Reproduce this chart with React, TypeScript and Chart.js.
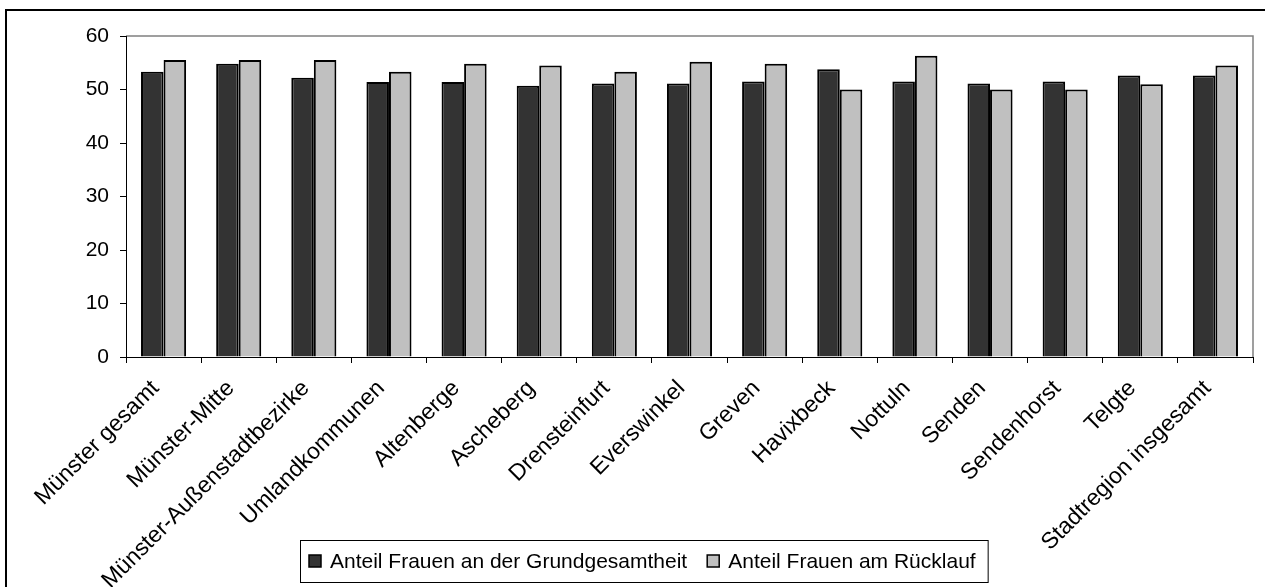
import React, { useEffect, useRef } from "react";
import { Chart, registerables } from "chart.js";

Chart.register(...registerables);

const categories = [
  "Münster gesamt",
  "Münster-Mitte",
  "Münster-Außenstadtbezirke",
  "Umlandkommunen",
  "Altenberge",
  "Ascheberg",
  "Drensteinfurt",
  "Everswinkel",
  "Greven",
  "Havixbeck",
  "Nottuln",
  "Senden",
  "Sendenhorst",
  "Telgte",
  "Stadtregion insgesamt",
];
const grundgesamtheit = [53.3, 54.8, 52.2, 51.4, 51.4, 50.7, 51.1, 51.1, 51.5, 53.8, 51.5, 51.1, 51.5, 52.6, 52.6];
const ruecklauf = [55.5, 55.5, 55.5, 53.3, 54.8, 54.5, 53.3, 55.2, 54.8, 50.0, 56.3, 50.0, 50.0, 51.0, 54.5];
const yTicks = [0, 10, 20, 30, 40, 50, 60];
const seriesNames = ["Anteil Frauen an der Grundgesamtheit", "Anteil Frauen am Rücklauf"];
const seriesColors = ["#333333", "#c0c0c0"];

const FAMILY = '"Liberation Sans", Arial, sans-serif';

const framePlugin = {
  id: "frame",
  beforeDraw(chart: any) {
    const { ctx, width, height, chartArea } = chart;
    ctx.save();
    ctx.fillStyle = "#ffffff";
    ctx.fillRect(0, 0, width, height);
    ctx.strokeStyle = "#000000";
    ctx.lineWidth = 2;
    ctx.beginPath();
    ctx.moveTo(6, height);
    ctx.lineTo(6, 10);
    ctx.lineTo(width, 10);
    ctx.stroke();
    ctx.strokeStyle = "#808080";
    ctx.lineWidth = 1.5;
    ctx.beginPath();
    ctx.moveTo(chartArea.left, chartArea.top);
    ctx.lineTo(chartArea.right, chartArea.top);
    ctx.lineTo(chartArea.right, chartArea.bottom);
    ctx.stroke();
    ctx.restore();
  },
  afterDraw(chart: any) {
    const { ctx } = chart;
    ctx.save();
    ctx.font = `21px ${FAMILY}`;
    ctx.textBaseline = "middle";
    ctx.textAlign = "left";
    const boxLeft = 300;
    const boxTop = 540;
    const boxH = 42;
    const padL = 9;
    const padR = 12;
    const marker = 12;
    const gapMT = 9;
    const itemGap = 20;
    const ds = chart.data.datasets;
    let total = padL + padR;
    const widths = ds.map((d: any) => ctx.measureText(d.label).width);
    widths.forEach((w: number, i: number) => {
      total += marker + gapMT + w + (i > 0 ? itemGap : 0);
    });
    ctx.fillStyle = "#ffffff";
    ctx.fillRect(boxLeft, boxTop, total, boxH);
    ctx.strokeStyle = "#000000";
    ctx.lineWidth = 1;
    ctx.strokeRect(boxLeft + 0.5, boxTop + 0.5, total, boxH);
    const cy = boxTop + boxH / 2;
    let x = boxLeft + padL;
    ds.forEach((d: any, i: number) => {
      if (i > 0) x += itemGap;
      ctx.fillStyle = d.backgroundColor;
      ctx.fillRect(x, cy - marker / 2, marker, marker);
      ctx.strokeStyle = "#000000";
      ctx.lineWidth = 1.5;
      ctx.strokeRect(x, cy - marker / 2, marker, marker);
      x += marker + gapMT;
      ctx.fillStyle = "#000000";
      ctx.fillText(d.label, x, cy + 1);
      x += widths[i];
    });
    ctx.restore();
  },
};

export default function App() {
  const canvasRef = useRef<HTMLCanvasElement | null>(null);

  useEffect(() => {
    document.body.style.margin = "0";
    const canvas = canvasRef.current;
    if (!canvas) return;
    const chart = new Chart(canvas, {
      type: "bar",
      data: {
        labels: categories,
        datasets: [
          {
            label: seriesNames[0],
            data: grundgesamtheit,
            backgroundColor: seriesColors[0],
            borderColor: "#000000",
            borderWidth: 2,
            categoryPercentage: 0.6,
            barPercentage: 1.0,
          },
          {
            label: seriesNames[1],
            data: ruecklauf,
            backgroundColor: seriesColors[1],
            borderColor: "#000000",
            borderWidth: 2,
            categoryPercentage: 0.6,
            barPercentage: 1.0,
          },
        ],
      },
      options: {
        responsive: false,
        animation: false,
        devicePixelRatio: 1,
        layout: { padding: { top: 36, right: 12, left: 0, bottom: 0 } },
        plugins: {
          legend: { display: false },
          tooltip: { enabled: false },
        },
        scales: {
          x: {
            type: "category",
            grid: {
              display: true,
              drawOnChartArea: false,
              drawTicks: true,
              tickLength: 6,
              color: "#000000",
              offset: true,
            },
            border: { color: "#000000", width: 1 },
            ticks: {
              autoSkip: false,
              minRotation: 45,
              maxRotation: 45,
              color: "#000000",
              font: { size: 23, family: FAMILY },
              padding: 12,
              labelOffset: -8,
            },
            afterFit: (s: any) => {
              s.height = 230;
            },
          },
          y: {
            min: 0,
            max: 60,
            grid: {
              display: true,
              drawOnChartArea: false,
              drawTicks: true,
              tickLength: 6,
              color: "#000000",
            },
            border: { color: "#000000", width: 1 },
            ticks: {
              color: "#000000",
              font: { size: 21, family: FAMILY },
              padding: 11,
            },
            afterBuildTicks: (s: any) => {
              s.ticks = yTicks.map((v) => ({ value: v }));
            },
            afterFit: (s: any) => {
              s.width = 126;
            },
          },
        },
      },
      plugins: [framePlugin],
    } as any);
    return () => chart.destroy();
  }, []);

  return (
    <div style={{ width: 1265, height: 587 }}>
      <canvas ref={canvasRef} width={1265} height={587} style={{ display: "block" }} />
    </div>
  );
}
